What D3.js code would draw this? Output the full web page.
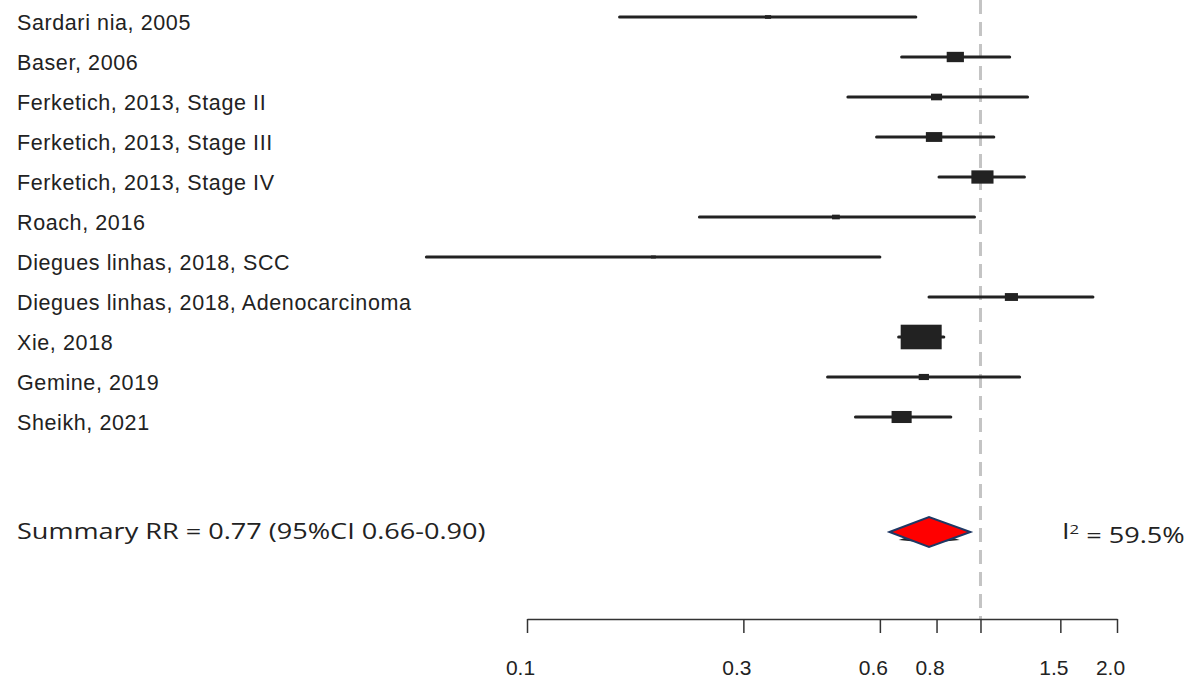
<!DOCTYPE html>
<html>
<head>
<meta charset="utf-8">
<script src="https://cdn.jsdelivr.net/npm/d3@7"></script>
<style>
  body { margin: 0; background: #fff; }
  svg { display: block; }
</style>
</head>
<body>
<div id="chart"></div>
<script>
// study rows (top to bottom)
const studies = [
  "Sardari nia, 2005",
  "Baser, 2006",
  "Ferketich, 2013, Stage II",
  "Ferketich, 2013, Stage III",
  "Ferketich, 2013, Stage IV",
  "Roach, 2016",
  "Diegues linhas, 2018, SCC",
  "Diegues linhas, 2018, Adenocarcinoma",
  "Xie, 2018",
  "Gemine, 2019",
  "Sheikh, 2021"
];
const rr = [0.34, 0.88, 0.80, 0.79, 1.01, 0.48, 0.19, 1.17, 0.74, 0.75, 0.67];
const lower = [0.16, 0.67, 0.51, 0.59, 0.81, 0.24, 0.06, 0.77, 0.66, 0.46, 0.53];
const upper = [0.72, 1.16, 1.27, 1.07, 1.25, 0.97, 0.60, 1.77, 0.83, 1.22, 0.86];
// relative study weights (box size)
const weights = [1.5, 4.2, 2.7, 4.0, 5.4, 1.9, 1.2, 3.2, 10, 2.5, 4.9];

// pooled estimate
const summaryRR = 0.77;
const summaryLo = 0.66;
const summaryHi = 0.90;
// drawn (pasted) red diamond extent
const diamondLo = 0.63;
const diamondHi = 0.95;
const summaryText = "Summary RR = 0.77 (95%CI 0.66-0.90)";
const i2Text = "59.5%";

const tickValues = [0.1, 0.3, 0.6, 0.8, 1, 1.5, 2];
const tickLabels = ["0.1", "0.3", "0.6", "0.8", "", "1.5", "2.0"];

const width = 1186;
const height = 678;

const svg = d3.select("#chart")
  .append("svg")
  .attr("width", width)
  .attr("height", height);

const x = d3.scaleLog().domain([0.1, 2]).range([527, 1117]);
const y = d3.scalePoint().domain(studies).range([17, 417]);
const boxW = d3.scaleLinear().domain([0, 10]).range([0, 41]);

const rows = studies.map((name, i) => ({
  name, rr: rr[i], lo: lower[i], hi: upper[i], w: weights[i]
}));

// null line at RR = 1
svg.append("line")
  .attr("x1", x(1)).attr("x2", x(1))
  .attr("y1", 0).attr("y2", 619)
  .attr("stroke", "#c4c4c4")
  .attr("stroke-width", 3)
  .attr("stroke-dasharray", "14,8");

// study labels
svg.append("g")
  .selectAll("text")
  .data(rows)
  .join("text")
  .attr("x", 17)
  .attr("y", (d) => y(d.name) + 5.5)
  .attr("dy", "0.35em")
  .attr("font-family", "'Liberation Sans', Arial, sans-serif")
  .attr("font-size", 21.5)
  .attr("letter-spacing", 0.6)
  .attr("fill", "#222")
  .text((d) => d.name);

// confidence intervals
svg.append("g")
  .selectAll("line")
  .data(rows)
  .join("line")
  .attr("x1", (d) => x(d.lo))
  .attr("x2", (d) => x(d.hi))
  .attr("y1", (d) => y(d.name))
  .attr("y2", (d) => y(d.name))
  .attr("stroke", "#222")
  .attr("stroke-width", 3)
  .attr("stroke-linecap", "round");

// point estimates, sized by weight
svg.append("g")
  .selectAll("rect")
  .data(rows)
  .join("rect")
  .attr("x", (d) => x(d.rr) - boxW(d.w) / 2)
  .attr("y", (d) => y(d.name) - boxW(d.w) * 0.3)
  .attr("width", (d) => boxW(d.w))
  .attr("height", (d) => boxW(d.w) * 0.6)
  .attr("fill", "#222");

// summary row (text is stretched sideways, like the pasted original)
const sy = 532;
const stretch = 1.29;
svg.append("text")
  .attr("transform", `translate(17,${sy}) scale(${stretch},1)`)
  .attr("dy", "0.35em")
  .attr("font-family", "'Open Sans', 'Noto Sans', sans-serif")
  .attr("font-size", 21)
  .attr("fill", "#222")
  .text(summaryText);

// original black summary polygon peeking out under the red one
svg.append("path")
  .attr("d", d3.line()([
    [x(summaryLo), sy + 8], [x(summaryRR), sy - 2],
    [x(summaryHi), sy + 8], [x(summaryRR), sy + 11]
  ]) + "Z")
  .attr("fill", "#222");

svg.append("path")
  .attr("d", d3.line()([
    [x(diamondLo), sy], [x(summaryRR), sy - 15],
    [x(diamondHi), sy], [x(summaryRR), sy + 15]
  ]) + "Z")
  .attr("fill", "#ff0000")
  .attr("stroke", "#1f3864")
  .attr("stroke-width", 2)
  .attr("stroke-linejoin", "miter");

const i2 = svg.append("text")
  .attr("transform", `translate(1062,${sy}) scale(${stretch},1)`)
  .attr("dy", "0.35em")
  .attr("font-family", "'Open Sans', 'Noto Sans', sans-serif")
  .attr("font-size", 21)
  .attr("fill", "#222");
i2.append("tspan").text("I");
i2.append("tspan").attr("dy", "-0.45em").attr("font-size", 13).text("2");
i2.append("tspan").attr("dy", "0.45em").text(" = " + i2Text);

// x axis
const axis = svg.append("g")
  .attr("transform", "translate(0,619)")
  .call(
    d3.axisBottom(x)
      .tickValues(tickValues)
      .tickFormat((d, i) => tickLabels[i])
      .tickSize(14)
      .tickSizeOuter(0)
      .tickPadding(27)
  );
axis.select(".domain").attr("stroke", "#333").attr("stroke-width", 1.5);
axis.selectAll(".tick line").attr("stroke", "#333").attr("stroke-width", 1.5);
axis.selectAll(".tick text")
  .attr("x", -7)
  .attr("font-family", "'Liberation Sans', Arial, sans-serif")
  .attr("font-size", 21)
  .attr("fill", "#222");
</script>
</body>
</html>
